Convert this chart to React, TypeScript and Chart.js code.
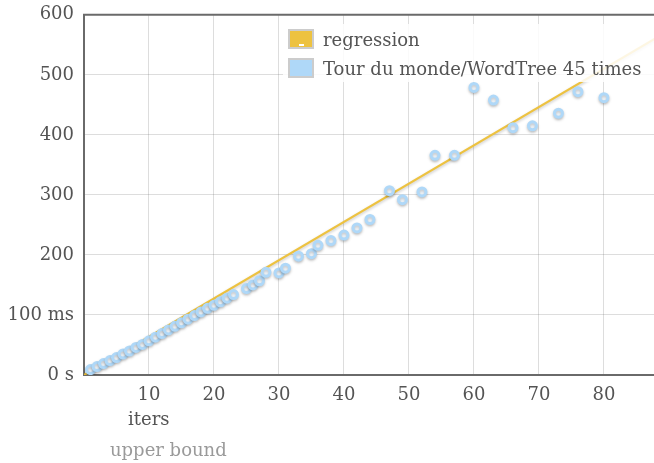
import React, { useEffect, useRef } from "react";
import { Chart, registerables } from "chart.js";

Chart.register(...registerables);

// ---- data ----
const pointIters = [
  1, 2, 3, 4, 5, 6, 7, 8, 9, 10, 11, 12, 13, 14, 15, 16, 17, 18, 19, 20, 21, 22, 23,
  25, 26, 27, 28, 30, 31, 33, 35, 36, 38, 40, 42, 44, 47, 49, 52, 54, 57, 60, 63, 66,
  69, 73, 76, 80,
];
const pointTimes = [
  9, 14, 19, 24, 29, 35, 40, 46, 51, 57, 63, 69, 75, 81, 87, 93, 99, 105, 111, 116, 122, 128, 134,
  144, 150, 157, 171, 170, 178, 198, 202, 216, 224, 233, 245, 259, 307, 292, 305, 366, 366, 479, 458, 412,
  415, 436, 472, 462,
];
const regressionIters = [0, 90];
const regressionTimes = [0, 574];

const xTickValues = [10, 20, 30, 40, 50, 60, 70, 80];
const yTickValues = [0, 100, 200, 300, 400, 500, 600];
const yTickLabels = ["0 s", "100 ms", "200", "300", "400", "500", "600"];
const legendLabels = ["regression", "Tour du monde/WordTree 45 times"];
const xAxisLabel = "iters";
const footerLabel = "upper bound";

const FONT = "'DejaVu Serif', serif";
const TEXT = "#545454";
const GRID = "rgba(84,84,84,0.2)";
const BORDER = "#6a6a6a";
const YELLOW = "#edc240";
const BLUE = "#afd8f8";

const shadowPlugin = {
  id: "shadow",
  beforeDatasetDraw(chart: any) {
    const ctx = chart.ctx;
    ctx.save();
    ctx.shadowColor = "rgba(0,0,0,0.22)";
    ctx.shadowBlur = 3;
    ctx.shadowOffsetX = 0;
    ctx.shadowOffsetY = 1.5;
  },
  afterDatasetDraw(chart: any) {
    chart.ctx.restore();
  },
};

const framePlugin = {
  id: "frame",
  afterDatasetsDraw(chart: any) {
    const { ctx, chartArea } = chart;
    ctx.save();
    ctx.strokeStyle = BORDER;
    ctx.lineWidth = 2;
    ctx.beginPath();
    ctx.moveTo(chartArea.left - 1, chartArea.top);
    ctx.lineTo(chartArea.right + 2, chartArea.top);
    ctx.stroke();
    ctx.restore();
  },
};

export default function App() {
  const ref = useRef<HTMLCanvasElement | null>(null);

  useEffect(() => {
    if (!ref.current) return;
    const chart = new Chart(ref.current, {
      type: "scatter",
      data: {
        datasets: [
          {
            label: legendLabels[0],
            data: regressionIters.map((x, i) => ({ x, y: regressionTimes[i] })),
            showLine: true,
            borderColor: YELLOW,
            backgroundColor: YELLOW,
            borderWidth: 2.2,
            pointRadius: 0,
            order: 2,
          } as any,
          {
            label: legendLabels[1],
            data: pointIters.map((x, i) => ({ x, y: pointTimes[i] })),
            showLine: false,
            pointRadius: 4,
            pointBorderWidth: 3,
            pointBorderColor: BLUE,
            pointBackgroundColor: "#f4faff",
            borderColor: BLUE,
            backgroundColor: "#f4faff",
            order: 1,
          } as any,
        ],
      },
      options: {
        animation: false,
        responsive: false,
        devicePixelRatio: 1,
        layout: { padding: { top: 8, left: 0, right: 0, bottom: 0 } },
        plugins: { legend: { display: false }, tooltip: { enabled: false } },
        scales: {
          x: {
            type: "linear",
            min: 0,
            max: 87.7,
            afterBuildTicks: (s: any) => {
              s.ticks = xTickValues.map((v) => ({ value: v }));
            },
            afterFit: (s: any) => {
              s.height = 88;
            },
            grid: { color: GRID, lineWidth: 1, drawTicks: false },
            border: { color: BORDER, width: 2 },
            ticks: {
              color: TEXT,
              font: { family: FONT, size: 18 },
              padding: 10,
              maxRotation: 0,
              autoSkip: false,
            },
          },
          y: {
            type: "linear",
            min: 0,
            max: 600,
            afterBuildTicks: (s: any) => {
              s.ticks = yTickValues.map((v) => ({ value: v }));
            },
            afterFit: (s: any) => {
              s.width = 84;
            },
            grid: {
              color: (c: any) =>
                c.tick && (c.tick.value === 0 || c.tick.value === 600) ? "rgba(0,0,0,0)" : GRID,
              lineWidth: 1,
              drawTicks: false,
            },
            border: { color: BORDER, width: 2 },
            ticks: {
              color: TEXT,
              font: { family: FONT, size: 18 },
              padding: 10,
              autoSkip: false,
              callback: (v: any) => yTickLabels[yTickValues.indexOf(Number(v))] ?? "",
            },
          },
        },
      },
      plugins: [shadowPlugin, framePlugin],
    });
    return () => chart.destroy();
  }, []);

  const textBase: React.CSSProperties = {
    position: "absolute",
    fontFamily: FONT,
    fontSize: 18,
    lineHeight: "20px",
    color: TEXT,
    whiteSpace: "nowrap",
  };

  return (
    <div style={{ position: "absolute", left: 0, top: 0, width: 654, height: 463, overflow: "hidden", background: "#fff" }}>
      <canvas ref={ref} width={661} height={469} style={{ position: "absolute", left: 0, top: -6, display: "block" }} />
      <div
        style={{
          position: "absolute",
          left: 283,
          top: 24,
          width: 380,
          height: 58,
          background: "rgba(255,255,255,0.85)",
        }}
      />
      <div style={{ position: "absolute", left: 288, top: 29, width: 22, height: 16, border: "2px solid #ccc", background: YELLOW }}>
        <div style={{ position: "absolute", left: 9, top: 13, width: 5, height: 2, background: "#fff" }} />
      </div>
      <div style={{ position: "absolute", left: 288, top: 58, width: 22, height: 16, border: "2px solid #ccc", background: BLUE }} />
      <div style={{ ...textBase, left: 323, top: 30 }}>{legendLabels[0]}</div>
      <div style={{ ...textBase, left: 323, top: 59 }}>{legendLabels[1]}</div>
      <div style={{ ...textBase, left: 128, top: 409 }}>{xAxisLabel}</div>
      <div style={{ ...textBase, left: 110, top: 440, color: "#9a9a9a" }}>{footerLabel}</div>
    </div>
  );
}
